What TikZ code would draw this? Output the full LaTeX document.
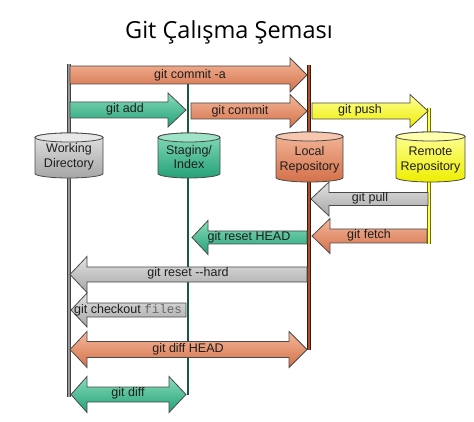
\documentclass[tikz,border=0pt]{standalone}
\usepackage{fontspec}
\setmainfont{Liberation Sans}
\newfontfamily\titlefont{Open Sans}
\setmonofont{Liberation Mono}
\definecolor{outl}{HTML}{4A4A4A}
\definecolor{orA}{HTML}{F4B89A}
\definecolor{orB}{HTML}{D4704A}
\definecolor{grA}{HTML}{86DDB8}
\definecolor{grB}{HTML}{24A078}
\definecolor{gyA}{HTML}{E2E2E2}
\definecolor{gyB}{HTML}{A6A6A6}
\definecolor{ylA}{HTML}{FFFF9A}
\definecolor{ylB}{HTML}{EEEE00}
\definecolor{txt}{HTML}{1E1E1E}
\newcommand\blockArrow[7]{% tail x, tip x, y, shaft half, head half, head base x, style
  \path[#7] (#1,#3-#4) -- (#6,#3-#4) -- (#6,#3-#5) -- (#2,#3) -- (#6,#3+#5) -- (#6,#3+#4) -- (#1,#3+#4) -- cycle;}
\newcommand\blockDouble[8]{% left tip, right tip, y, shaft half, head half, left base, right base, style
  \path[#8] (#1,#3) -- (#6,#3-#5) -- (#6,#3-#4) -- (#7,#3-#4) -- (#7,#3-#5) -- (#2,#3) -- (#7,#3+#5) -- (#7,#3+#4) -- (#6,#3+#4) -- (#6,#3+#5) -- cycle;}
\newcommand\cylShape[6]{% x1, x2, ytop, ybot, top color, bottom color
  \pgfmathsetmacro\cxr{(#2-#1)/2}
  \shade[top color=#5, bottom color=#6, draw=outl, line width=0.8pt]
    (#1,#3+4.5) -- (#1,#4-4.5) arc[start angle=180, end angle=0, x radius=\cxr, y radius=4.5]
    -- (#2,#3+4.5) arc[start angle=0, end angle=-180, x radius=\cxr, y radius=4.5] -- cycle;
  \path[fill=#5!80!white, draw=outl, line width=0.8pt] ({(#1+#2)/2},#3+4.5) ellipse[x radius=\cxr, y radius=4.5];}
\tikzset{
  arrowbox/.style={draw=outl, line width=0.8pt},
  orangearrow/.style={arrowbox, top color=orA, bottom color=orB},
  greenarrow/.style={arrowbox, top color=grA, bottom color=grB},
  grayarrow/.style={arrowbox, top color=gyA, bottom color=gyB},
  yellowarrow/.style={arrowbox, top color=ylA, bottom color=ylB},
  lbl/.style={font=\fontsize{12.5}{13}\selectfont, text=txt, inner sep=0pt},
  cyltext/.style={font=\fontsize{12.5}{14.5}\selectfont, text=txt, align=center, inner sep=0pt},
}
\begin{document}
\begin{tikzpicture}[x=1pt,y=-1pt]
\useasboundingbox[fill=white] (0,0) rectangle (474,422);
\node[font=\titlefont\fontsize{23.5}{25}\selectfont, text=black] (title) at (229,32) {Git Çalışma Şeması};
% vertical lines
\coordinate (wdtop) at (69,64);  \coordinate (wdbot) at (69,397);
\coordinate (sttop) at (188,66); \coordinate (stbot) at (188,395);
\coordinate (lrtop) at (309,65); \coordinate (lrbot) at (309,350);
\coordinate (rrtop) at (429,108); \coordinate (rrbot) at (429,244);
\draw[line width=4pt, color=black!75] (wdtop) -- (wdbot);
\draw[line width=1.8pt, color=black!40] (wdtop) -- (wdbot);
\draw[line width=2.6pt, color={rgb,255:red,26;green,88;blue,66}] (sttop) -- (stbot);
\draw[line width=3.6pt, color={rgb,255:red,60;green,25;blue,10}] (lrtop) -- (lrbot);
\draw[line width=1.6pt, color={rgb,255:red,170;green,80;blue,45}] (lrtop) -- (lrbot);
\draw[line width=3.6pt, color={rgb,255:red,110;green,110;blue,0}] (rrtop) -- (rrbot);
\draw[line width=1.6pt, color={rgb,255:red,255;green,255;blue,80}] (rrtop) -- (rrbot);
% cylinders
\cylShape{35}{103}{133}{178}{gyA}{gyB}
\cylShape{158}{220}{133}{178}{grA}{grB}
\cylShape{276}{343}{132}{182}{orA}{orB}
\cylShape{396}{465}{132}{182}{ylA}{ylB}
\node[cyltext] (wd) at (69,157) {Working\\Directory};
\node[cyltext] (st) at (189,157) {Staging/\\Index};
\node[cyltext] (lr) at (309.5,160) {Local\\Repository};
\node[cyltext] (rr) at (430.5,160) {Remote\\Repository};
% arrows
\blockArrow{70}{307}{75}{9}{17}{290}{orangearrow}
\node[lbl] (commita) at (190,75) {git commit -a};
\blockArrow{70}{186}{110}{8}{17}{168}{greenarrow}
\node[lbl] (add) at (125,109) {git add};
\blockArrow{191}{307}{111}{8}{16.5}{290}{orangearrow}
\node[lbl] (commit) at (240,111) {git commit};
\blockArrow{312}{428}{111}{8}{16.5}{410}{yellowarrow}
\node[lbl] (push) at (360,110) {git push};
\blockArrow{428}{311}{199}{6.5}{17}{329}{grayarrow}
\node[lbl] (pull) at (370,198) {git pull};
\blockArrow{427}{312}{236}{7}{17.5}{330}{orangearrow}
\node[lbl] (fetch) at (369,235) {git fetch};
\blockArrow{307}{192}{237.5}{6.5}{17}{208}{greenarrow}
\node[lbl] (resethead) at (249,237) {git reset HEAD};
\blockArrow{307}{70}{274.5}{7.5}{18}{87}{grayarrow}
\node[lbl] (resethard) at (188,273) {git reset -{}-hard};
\blockArrow{186}{71}{310}{7}{17}{87}{grayarrow}
\node[lbl] (checkout) at (128,310) {git checkout \textcolor{black!60}{\texttt{files}}};
\blockDouble{70}{307}{349.5}{8}{18}{87}{289}{orangearrow}
\node[lbl] (diffhead) at (188,349) {git diff HEAD};
\blockDouble{71}{186}{394.5}{7.5}{18}{87}{169}{greenarrow}
\node[lbl] (diff) at (128,393) {git diff};
\end{tikzpicture}
\end{document}
